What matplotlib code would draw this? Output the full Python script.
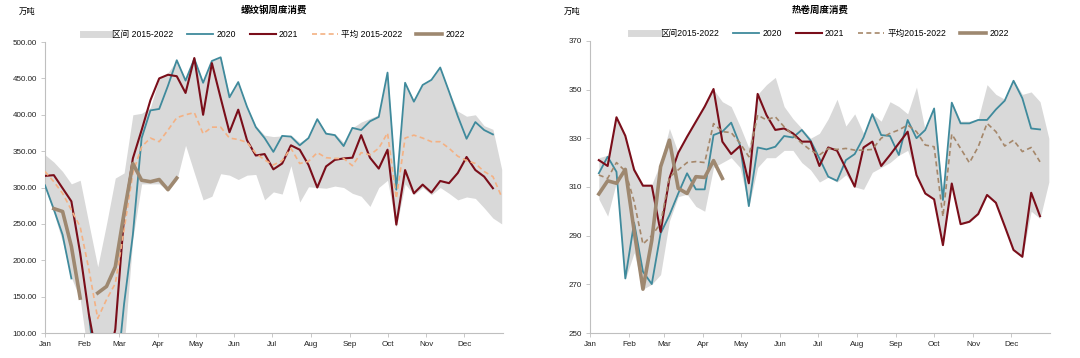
import numpy as np
import matplotlib
matplotlib.use('Agg')
from matplotlib import pyplot as plt
from matplotlib.lines import Line2D

plt.rcParams['font.family'] = ['Liberation Sans', 'Noto Sans CJK SC']
nan = np.nan

# month ticks (day of year)
month_days = [0, 31, 59, 90, 120, 151, 181, 212, 243, 273, 304, 334]
month_labels = ['Jan', 'Feb', 'Mar', 'Apr', 'May', 'Jun', 'Jul', 'Aug', 'Sep', 'Oct', 'Nov', 'Dec']

# ---- rebar weekly consumption (万吨) ----
rebar_upper = [345, 335, 322, 305, 310, 250, 191, 250, 313, 320, 400, 402, 410, 450, 458, 475, 448, 478,
               445, 474, 479, 428, 445, 411, 385, 372, 370, 371, 372, 362, 370, 394, 376, 374, 362, 382,
               390, 395, 400, 458, 300, 444, 420, 441, 448, 465, 432, 405, 398, 400, 385, 380, 325]
rebar_lower = [300, 265, 225, 176, 147, 60, 20, 15, 20, 80, 230, 305, 305, 305, 296, 310, 358, 320,
               283, 288, 319, 317, 311, 317, 318, 283, 294, 291, 330, 280, 301, 300, 299, 302, 300, 292,
               288, 274, 300, 310, 245, 305, 290, 300, 290, 300, 292, 283, 287, 285, 272, 258, 250]
rebar_avg = [322, 308, 292, 269, 246, 187, 120, 146, 168, 242, 320, 356, 368, 363, 379, 396, 400, 403,
             374, 383, 383, 368, 366, 362, 347, 338, 331, 337, 354, 333, 336, 348, 341, 340, 340, 330,
             348, 345, 354, 375, 285, 368, 372, 368, 363, 363, 354, 343, 337, 333, 322, 315, 287]
rebar_2020 = [303, 270, 235, 175, nan, 125, 20, 15, 20, 140, 235, 368, 406, 408, 440, 475, 447, 477,
              444, 474, 479, 424, 445, 411, 383, 368, 349, 371, 370, 358, 368, 394, 374, 372, 357, 382,
              379, 391, 397, 458, 297, 444, 418, 441, 448, 465, 432, 398, 367, 390, 379, 373]
rebar_2021 = [316, 317, 299, 281, 210, 125, 60, 50, 105, 260, 340, 379, 420, 450, 455, 453, 430, 478,
              400, 471, 423, 376, 407, 365, 344, 346, 325, 333, 358, 352, 331, 300, 329, 338, 340, 341,
              372, 341, 326, 352, 249, 324, 292, 304, 293, 309, 306, 320, 342, 324, 315, 299]
rebar_2022 = [nan, 271, 267, 219, 148, nan, 155, 164, 191, 265, 333, 310, 308, 311, 297, 313]

# ---- hot-rolled coil weekly consumption (万吨) ----
hrc_upper = [322, 323, 339, 331, 318, 311, 311, 320, 334, 324, 331, 337, 343, 350, 345, 343, 335, 326,
             348, 352, 355, 343, 338, 334, 330, 332, 338, 346, 335, 340, 332, 340, 337, 345, 343, 340,
             351, 333, 343, 305, 345, 337, 337, 338, 352, 348, 346, 354, 348, 349, 345, 330]
hrc_lower = [305, 298, 312, 272, 283, 268, 270, 274, 296, 306, 307, 302, 300, 318, 320, 322, 318, 302,
             318, 322, 322, 325, 325, 320, 317, 312, 314, 312, 315, 310, 309, 316, 318, 320, 323, 325,
             315, 307, 305, 286, 311, 294.5, 295.5, 298.5, 306.5, 303, 293.5, 284, 281, 300, 297, 312]
hrc_avg = [314.9, 313.5, 320, 316.5, 304, 286.5, 290, 295, 314, 317, 320, 320.4, 320, 336, 332.7, 332.3,
           328, 322.4, 339.5, 337.5, 338.8, 334.7, 331.3, 327.9, 325.1, 323.1, 325.8, 325.4, 325.8, 325.1,
           325.1, 325.4, 330, 332, 333.4, 335.4, 332.7, 327.2, 326.5, 297.8, 331.7, 325.8, 319.9, 326.5,
           336.1, 332.7, 326.8, 329.2, 324.5, 326.2, 320.3]
hrc_2020 = [315.6, 322.4, 316.2, 272.4, 295.3, 275.2, 270.1, 290.9, 298.4, 307.3, 315.6, 309, 309, 331.3,
            332.7, 336.4, 327.2, 302.1, 326.2, 325.4, 326.5, 330.9, 330.3, 333.4, 329, 321.7, 314.2, 312.5,
            321, 323.5, 330.3, 339.9, 331.3, 330.9, 323.1, 337.5, 330, 333.4, 342.2, 304.6, 344.6, 336.1,
            336.1, 337.5, 337.5, 341.8, 345.4, 353.6, 346.4, 334, 333.6]
hrc_2021 = [321, 318.6, 338.6, 331, 317, 310.5, 310.5, 291.5, 313.5, 324, 330.6, 336.8, 343, 350.2, 328.6,
            323.5, 326.8, 311.5, 348.2, 339.5, 333.4, 334, 332, 328.6, 328.6, 318.6, 326.2, 324.9, 317.6,
            310.1, 326.2, 328.6, 318.6, 323.1, 327.9, 332.7, 314.9, 307.3, 304.9, 286.1, 311.4, 294.7,
            295.7, 298.9, 306.7, 303.5, 293.9, 284.1, 281.3, 307.6, 298]
hrc_2022 = [307.1, 312.5, 311.5, 317.2, 292, 268, 288, 318.3, 329.2, 309.4, 307.3, 314.2, 313.9, 320.8, 313.5]

c_band = '#D9D9D9'
c_2020 = '#3F8A9C'
c_2021 = '#7A0E1A'
c_2022 = '#9E8870'


def weeks(vals, start):
    return start + 7 * np.arange(len(vals))


def draw(ax, upper, lower, avg, y20, y21, y22, start, avg_color, ylim, yticks, fmt, title, names):
    ax.fill_between(weeks(upper, start), lower, upper, color=c_band, lw=0, zorder=1)
    ax.plot(weeks(y20, start), y20, color=c_2020, lw=1.3, zorder=3)
    ax.plot(weeks(y21, start), y21, color=c_2021, lw=1.5, zorder=4)
    ax.plot(weeks(avg, start), avg, color=avg_color, lw=1.2, ls=(0, (3, 2)), zorder=5)
    ax.plot(weeks(y22, start), y22, color=c_2022, lw=2.6, zorder=6)
    ax.set_xlim(0, 365)
    ax.set_ylim(*ylim)
    ax.set_yticks(yticks)
    ax.set_yticklabels([fmt.format(v) for v in yticks])
    ax.set_xticks(month_days)
    ax.set_xticklabels(month_labels)
    ax.tick_params(labelsize=5.8, length=3, width=0.6, color='#BFBFBF', pad=3, labelcolor='#222222')
    for s in ['top', 'right']:
        ax.spines[s].set_visible(False)
    for s in ['left', 'bottom']:
        ax.spines[s].set_color('#BFBFBF')
        ax.spines[s].set_linewidth(0.8)
    handles = [Line2D([], [], color=c_band, lw=5),
               Line2D([], [], color=c_2020, lw=1.3),
               Line2D([], [], color=c_2021, lw=1.5),
               Line2D([], [], color=avg_color, lw=1.2, ls=(0, (3, 2))),
               Line2D([], [], color=c_2022, lw=2.6)]
    ax.legend(handles, names, loc='center', bbox_to_anchor=(0.5, 1.025), ncol=5, frameon=False,
              fontsize=6.2, handlelength=3.0, columnspacing=1.6, handletextpad=0.4, borderaxespad=0)
    pos = ax.get_position()
    fig.text(pos.x0 + pos.width / 2, 0.972, title, fontsize=6.8, fontweight='bold',
             ha='center', va='center')


fig = plt.figure(figsize=(10.8, 3.58), dpi=100)
ax1 = fig.add_axes([0.0417, 0.0698, 0.424, 0.8128])
ax2 = fig.add_axes([0.5463, 0.0698, 0.426, 0.8162])

draw(ax1, rebar_upper, rebar_lower, rebar_avg, rebar_2020, rebar_2021, rebar_2022, 0, '#F4B183',
     (100, 500), list(range(100, 501, 50)), '{:.2f}', '螺纹钢周度消费',
     ['区间 2015-2022', '2020', '2021', '平均 2015-2022', '2022'])
draw(ax2, hrc_upper, hrc_lower, hrc_avg, hrc_2020, hrc_2021, hrc_2022, 7, '#A5876A',
     (250, 370), list(range(250, 371, 20)), '{:d}', '热卷周度消费',
     ['区间2015-2022', '2020', '2021', '平均2015-2022', '2022'])

fig.text(0.017, 0.968, '万吨', fontsize=6, ha='left', va='center')
fig.text(0.522, 0.968, '万吨', fontsize=6, ha='left', va='center')

fig.savefig('out.png', dpi=100)
